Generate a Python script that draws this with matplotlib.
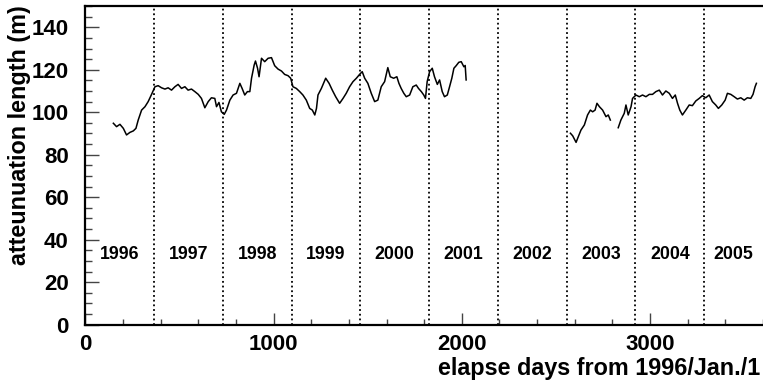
import numpy as np
import matplotlib
matplotlib.use("Agg")
import matplotlib.pyplot as plt
from matplotlib.ticker import MultipleLocator

plt.rcParams['font.family'] = ['Liberation Sans', 'DejaVu Sans']
plt.rcParams['font.weight'] = 'bold'

# attenuation length vs. elapsed days, three continuous running periods
days_a = [149, 166, 184, 202, 219, 237, 255, 269, 281, 299, 317, 334, 352, 370, 387,
          405, 423, 440, 458, 476, 493, 511, 529, 546, 564, 582, 600, 617, 635, 653,
          670, 688, 697, 710, 723, 738, 750, 768, 785, 803, 821, 833, 847, 861, 874,
          883, 897, 904, 915, 923, 936, 953, 971, 989, 1006, 1024, 1042, 1059, 1077, 1091,
          1103, 1121, 1139, 1156, 1174, 1192, 1206, 1219, 1228, 1236, 1254, 1277, 1295, 1312, 1330,
          1351, 1369, 1386, 1404, 1422, 1440, 1457, 1471, 1484, 1501, 1519, 1537, 1554, 1572, 1590,
          1607, 1620, 1638, 1655, 1666, 1678, 1692, 1705, 1723, 1740, 1758, 1770, 1785, 1798, 1807,
          1816, 1829, 1843, 1855, 1870, 1882, 1896, 1908, 1923, 1935, 1947, 1958, 1970, 1984, 1997,
          2011, 2018, 2023]
atten_a = [94.8, 93.2, 94.3, 92.4, 89.3, 90.5, 91.2, 92.4, 96.3, 101.0, 102.6, 105.0, 108.4, 112.0, 112.5,
           111.5, 110.9, 111.5, 110.4, 112.0, 113.1, 111.2, 112.0, 110.4, 110.9, 109.7, 108.4, 106.5, 102.1, 105.0,
           106.8, 106.5, 102.6, 104.6, 100.2, 99.0, 101.0, 105.7, 108.1, 108.9, 113.6, 111.2, 108.1, 109.7, 109.7,
           116.0, 122.2, 124.1, 120.7, 116.7, 125.4, 123.8, 125.4, 125.7, 121.9, 120.3, 119.4, 117.8, 117.2, 116.0,
           112.0, 111.2, 109.7, 108.1, 105.7, 101.8, 101.0, 98.7, 101.8, 108.1, 111.2, 116.0, 113.6, 110.4, 107.3,
           104.2, 106.5, 108.9, 112.0, 114.4, 116.0, 117.8, 119.1, 116.0, 113.6, 108.9, 105.0, 105.7, 112.0, 114.4,
           121.0, 116.7, 116.0, 116.7, 113.6, 111.2, 108.9, 107.3, 108.1, 112.0, 112.8, 111.2, 109.7, 108.1, 106.5,
           114.4, 119.1, 120.7, 116.7, 113.1, 115.2, 109.7, 107.3, 108.1, 112.0, 116.0, 120.7, 121.9, 123.5, 123.8,
           121.4, 122.0, 115.2]

days_b = [2577, 2589, 2607, 2619, 2633, 2651, 2668, 2683, 2695, 2708, 2718, 2731, 2748, 2766, 2778, 2789]
atten_b = [90.1, 88.9, 85.8, 88.5, 91.6, 94.0, 98.7, 101.0, 100.2, 101.0, 104.2, 102.6, 101.0, 97.9, 98.7, 96.3]

days_c = [2831, 2845, 2863, 2872, 2884, 2899, 2907, 2925, 2943, 2960, 2978, 2996, 3013, 3031, 3049,
          3066, 3084, 3102, 3119, 3134, 3146, 3158, 3172, 3190, 3208, 3225, 3243, 3261, 3278, 3296,
          3314, 3331, 3349, 3363, 3381, 3399, 3411, 3429, 3447, 3464, 3482, 3500, 3517, 3535, 3547,
          3558, 3565]
atten_c = [92.7, 96.3, 99.5, 103.4, 98.7, 102.6, 106.5, 108.1, 107.3, 108.1, 107.3, 108.4, 108.4, 109.7, 110.4,
           108.1, 110.0, 108.9, 106.5, 108.1, 104.2, 101.0, 98.7, 101.0, 103.4, 103.1, 105.3, 106.5, 107.8, 106.8,
           108.1, 105.0, 103.4, 101.8, 103.4, 105.7, 108.9, 108.4, 107.3, 106.2, 106.8, 105.7, 106.8, 106.5, 108.4,
           112.0, 113.6]

year_starts = [0, 366, 731, 1096, 1461, 1827, 2192, 2557, 2922, 3288, 3653]
year_names = ['1996', '1997', '1998', '1999', '2000', '2001', '2002', '2003', '2004', '2005']
year_label_y = 33

fig = plt.figure(figsize=(7.63, 3.84), dpi=100)
ax = fig.add_axes([0.1118, 0.1547, 0.8882, 0.8296])

for d, a in [(days_a, atten_a), (days_b, atten_b), (days_c, atten_c)]:
    ax.plot(d, a, color='black', lw=1.1, zorder=3)

# year boundaries
for x in year_starts[1:-1]:
    ax.axvline(x, color='black', lw=1.3, linestyle=(0, (1, 1.6)), zorder=2)

for i, name in enumerate(year_names):
    xc = 0.5 * (year_starts[i] + year_starts[i + 1])
    if i == len(year_names) - 1:
        xc = 0.5 * (year_starts[i] + 3600)
    ax.text(xc, year_label_y, name, ha='center', va='center', fontsize=12.8, fontweight='bold')

ax.set_xlim(0, 3600)
ax.set_ylim(0, 150)
ax.xaxis.set_major_locator(MultipleLocator(1000))
ax.xaxis.set_minor_locator(MultipleLocator(200))
ax.yaxis.set_major_locator(MultipleLocator(20))
ax.yaxis.set_minor_locator(MultipleLocator(5))
ax.tick_params(axis='both', which='both', direction='in', top=False, right=False,
               width=1.0, color='#444444', labelsize=16)
ax.tick_params(axis='x', which='major', length=9, pad=7)
ax.tick_params(axis='x', which='minor', length=4.5)
ax.tick_params(axis='y', which='major', length=10, pad=12)
ax.tick_params(axis='y', which='minor', length=5)
for lab in ax.get_xticklabels() + ax.get_yticklabels():
    lab.set_fontweight('bold')

for s in ['left', 'bottom', 'top']:
    ax.spines[s].set_linewidth(1.6)
ax.spines['right'].set_visible(False)

fig.text(760 / 763, 1 - 375.5 / 384, 'elapse days from 1996/Jan./1',
         ha='right', va='baseline', fontsize=16.8, fontweight='bold')
fig.text(20 / 763, 1 - 5 / 384, 'atteunuation length (m)', rotation=90,
         ha='center', va='top', fontsize=16.8, fontweight='bold')

fig.savefig('out.png', dpi=100)
